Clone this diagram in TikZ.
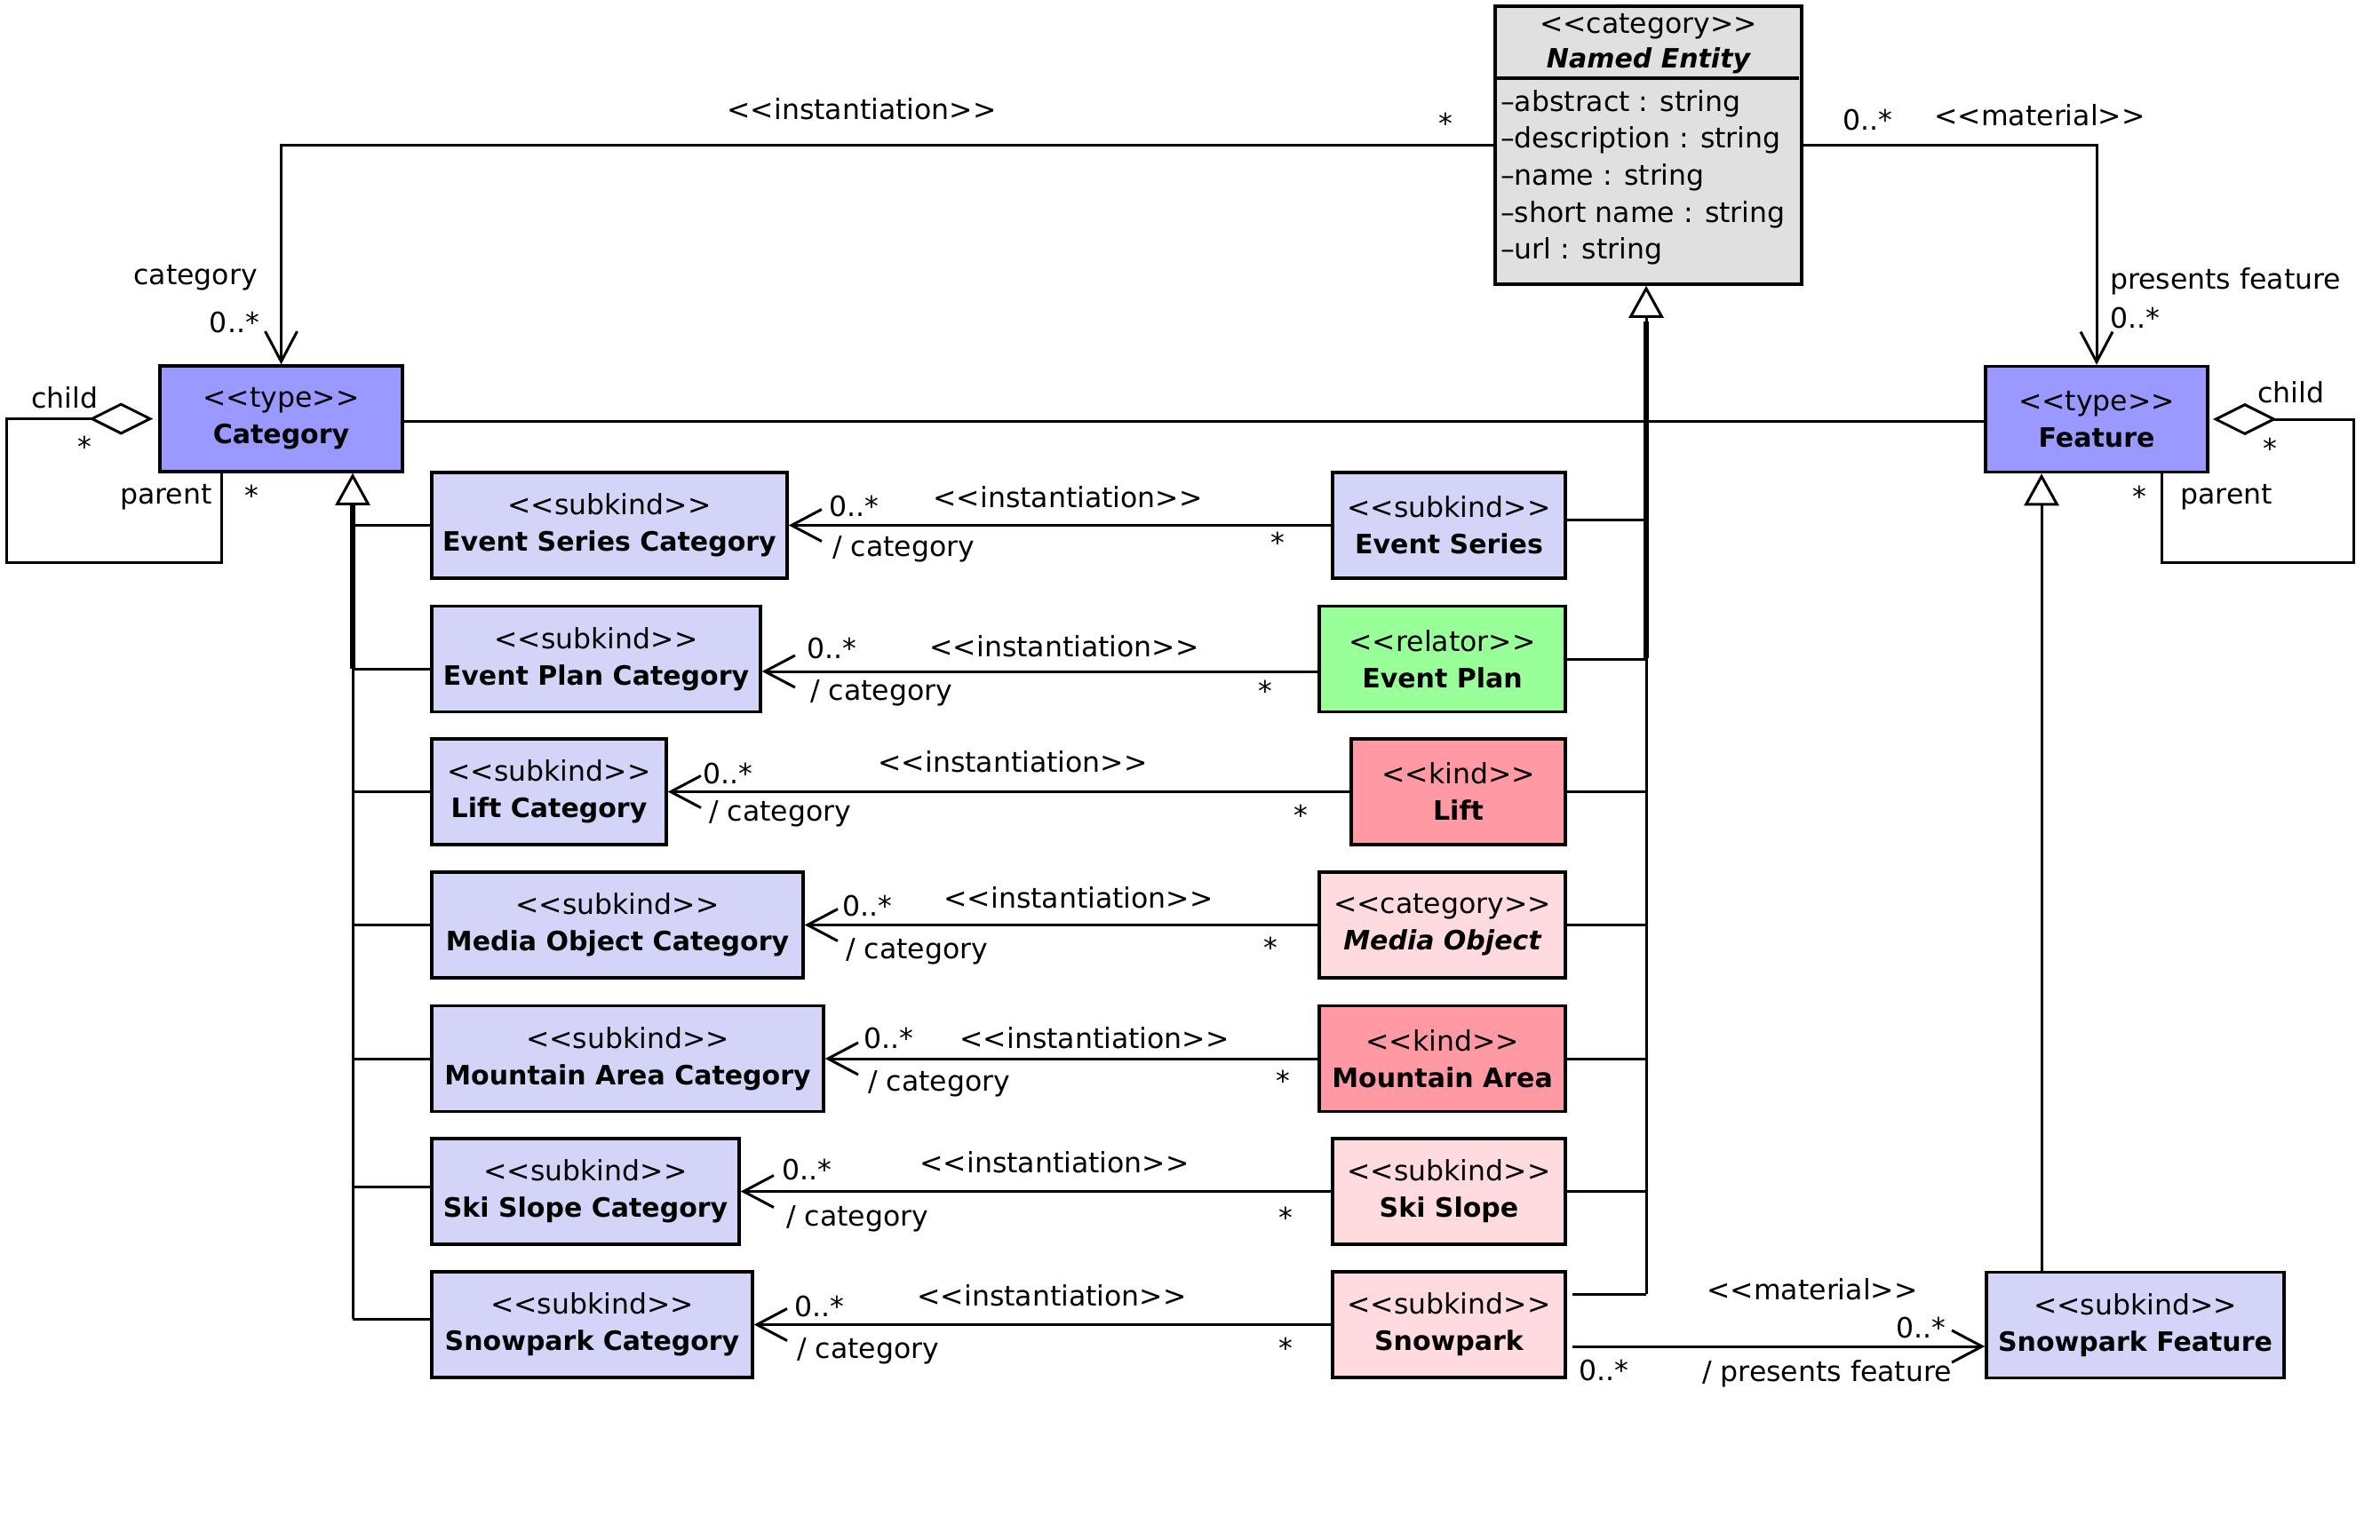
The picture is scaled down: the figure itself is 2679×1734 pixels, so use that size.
\documentclass[tikz,border=0pt]{standalone}
\usepackage{fontspec}
\setmainfont{DejaVu Sans}
\usetikzlibrary{arrows.meta,calc}
\newcommand{\fsz}{\fontsize{31.5}{41}\selectfont}
\newcommand{\bnm}[1]{{\fontsize{30}{41}\selectfont\bfseries #1}}
\newcommand{\stt}[1]{{<}{<}#1{>}{>}}
\definecolor{typec}{HTML}{9999FF}
\definecolor{subkc}{HTML}{D4D4F8}
\definecolor{relc}{HTML}{99FF99}
\definecolor{kindc}{HTML}{FF99A3}
\definecolor{pinkc}{HTML}{FFDADF}
\definecolor{entc}{HTML}{E0E0E0}
\begin{document}
\begin{tikzpicture}[x=1pt,y=-1pt,
 cls/.style={draw=black, line width=3.5pt, rectangle, align=center, inner sep=0pt, font=\fsz, minimum height=119pt},
 lbl/.style={inner sep=0pt, font=\fsz},
 conn/.style={line width=3pt},
 inst/.style={conn, -{Straight Barb[length=34pt,width=36pt]}},
 gen/.style={conn, -{Triangle[length=36pt,width=39pt,fill=white]}},
 agg/.style={conn, {Diamond[length=72pt,width=36pt,fill=white]}-},
]
\useasboundingbox (0,0) rectangle (2679,1734);

% ---------- Named Entity ----------
\node[cls, fill=entc, minimum width=345pt, minimum height=313pt] (ne) at (1855.5,163.5) {};
\draw[line width=3.5pt] (ne.north west) ++(1.75,83) -- ++(341.5,0);
\node[lbl] (ne1) at (1855.5,30) {\stt{category}};
\node[lbl] (ne2) at (1855.5,68) {\bnm{\itshape Named Entity}};
\node[lbl, anchor=west] (a1) at (1689,117) {–abstract : string};
\node[lbl, anchor=west] (a2) at (1689,158) {–description : string};
\node[lbl, anchor=west] (a3) at (1689,200) {–name : string};
\node[lbl, anchor=west] (a4) at (1689,242) {–short name : string};
\node[lbl, anchor=west] (a5) at (1689,283) {–url : string};

% ---------- Types ----------
\node[cls, fill=typec, minimum width=273pt] (cat) at (316.5,471.5) {\stt{type}\\\bnm{Category}};
\node[cls, fill=typec, minimum width=250pt] (feat) at (2360,472) {\stt{type}\\\bnm{Feature}};

% ---------- Left column ----------
\node[cls, fill=subkc, minimum width=400pt] (esc) at (686,591.5) {\stt{subkind}\\\bnm{Event Series Category}};
\node[cls, fill=subkc, minimum width=370pt] (epc) at (671,742) {\stt{subkind}\\\bnm{Event Plan Category}};
\node[cls, fill=subkc, minimum width=264pt] (lc) at (618,891.5) {\stt{subkind}\\\bnm{Lift Category}};
\node[cls, fill=subkc, minimum width=418pt] (moc) at (695,1041.5) {\stt{subkind}\\\bnm{Media Object Category}};
\node[cls, fill=subkc, minimum width=441pt] (mac) at (706.5,1192) {\stt{subkind}\\\bnm{Mountain Area Category}};
\node[cls, fill=subkc, minimum width=346pt] (ssc) at (659,1341.5) {\stt{subkind}\\\bnm{Ski Slope Category}};
\node[cls, fill=subkc, minimum width=361pt] (spc) at (666.5,1491.5) {\stt{subkind}\\\bnm{Snowpark Category}};

% ---------- Right column ----------
\node[cls, fill=subkc, minimum width=262pt] (es) at (1631,591.5) {\stt{subkind}\\\bnm{Event Series}};
\node[cls, fill=relc, minimum width=277pt] (ep) at (1623.5,742) {\stt{relator}\\\bnm{Event Plan}};
\node[cls, fill=kindc, minimum width=241pt] (lift) at (1641.5,891.5) {\stt{kind}\\\bnm{Lift}};
\node[cls, fill=pinkc, minimum width=277pt] (mo) at (1623.5,1041.5) {\stt{category}\\\bnm{\itshape Media Object}};
\node[cls, fill=kindc, minimum width=277pt] (ma) at (1623.5,1192) {\stt{kind}\\\bnm{Mountain Area}};
\node[cls, fill=pinkc, minimum width=262pt] (ss) at (1631,1341.5) {\stt{subkind}\\\bnm{Ski Slope}};
\node[cls, fill=pinkc, minimum width=262pt] (sp) at (1631,1491.5) {\stt{subkind}\\\bnm{Snowpark}};
\node[cls, fill=subkc, minimum width=335pt] (spf) at (2403.5,1492) {\stt{subkind}\\\bnm{Snowpark Feature}};

% ---------- Top associations ----------
\draw[inst] (ne.west) -| (cat.north);
\node[lbl] (t1) at (970,123) {\stt{instantiation}};
\node[lbl] (t2) at (1627,139) {*};
\node[lbl, anchor=east] (t3) at (290,313) {category};
\node[lbl, anchor=east] (t4) at (292,363) {0..*};

\draw[inst] (ne.east) -| (feat.north);
\node[lbl] (m1) at (2102,135) {0..*};
\node[lbl] (m2) at (2296,130) {\stt{material}};
\node[lbl, anchor=west] (m3) at (2375,317) {presents feature};
\node[lbl, anchor=west] (m4) at (2375,358) {0..*};

\draw[conn] (cat.east |- 0,474) -- (feat.west |- 0,474);

% ---------- Self loops ----------
\coordinate (cl1) at (7,633);
\coordinate (cl2) at (249,633);
\draw[agg, shorten <=6pt] (cat.west) -| (cl1) -- (cl2) -- (cl2 |- cat.south);
\node[lbl] (c1) at (73,448) {child};
\node[lbl] (c2) at (95,503) {*};
\node[lbl] (c3) at (187,560) {parent};
\node[lbl] (c4) at (283,558) {*};

\coordinate (fl1) at (2649,633);
\coordinate (fl2) at (2433,633);
\draw[agg, shorten <=4pt] (feat.east) -| (fl1) -- (fl2) -- (fl2 |- feat.south);
\node[lbl] (f1) at (2579,442) {child};
\node[lbl] (f2) at (2555,505) {*};
\node[lbl] (f3) at (2506,560) {parent};
\node[lbl] (f4) at (2408,559) {*};

% ---------- Left generalization tree ----------
\coordinate (tlb) at (397,1485);
\draw[line width=6pt] (397,567) -- (397,753);
\draw[gen] (tlb) -- (tlb |- cat.south);
\draw[conn] (esc.west) -- (esc.west -| tlb);
\draw[conn] ([yshift=-11pt]epc.west) -- ([yshift=-11pt]epc.west -| tlb);
\draw[conn] (lc.west) -- (lc.west -| tlb);
\draw[conn] (moc.west) -- (moc.west -| tlb);
\draw[conn] (mac.west) -- (mac.west -| tlb);
\draw[conn] ([yshift=5pt]ssc.west) -- ([yshift=5pt]ssc.west -| tlb);
\draw[conn] ([yshift=6.5pt]spc.west) -- (tlb);

% ---------- Right generalization tree ----------
\coordinate (trb) at (1853,1457);
\draw[line width=6pt] (1853,362) -- (1853,741);
\draw[gen] (trb) -- (trb |- ne.south);
\draw[conn] ([yshift=6.5pt]es.east) -- ([yshift=6.5pt]es.east -| trb);
\draw[conn] (ep.east) -- (ep.east -| trb);
\draw[conn] (lift.east) -- (lift.east -| trb);
\draw[conn] (mo.east) -- (mo.east -| trb);
\draw[conn] (ma.east) -- (ma.east -| trb);
\draw[conn] (ss.east) -- (ss.east -| trb);
\draw[conn] ([yshift=34.5pt,xshift=6pt]sp.east) -- (trb);

% ---------- Feature generalization ----------
\coordinate (fgb) at (2298,1432);
\draw[gen] (fgb) -- (fgb |- feat.south);

% ---------- Instantiation rows ----------
\draw[inst] (es.west) -- (esc.east);
\node[lbl, anchor=west] (r1a) at (933,570) {0..*};
\node[lbl] (r1b) at (1202,560) {\stt{instantiation}};
\node[lbl, anchor=west] (r1c) at (937,618) {/ category};
\node[lbl] (r1d) at (1438,611) {*};

\draw[inst] ([yshift=-14pt]ep.west) -- ([yshift=-14pt]epc.east);
\node[lbl, anchor=west] (r2a) at (908,730) {0..*};
\node[lbl] (r2b) at (1198,728) {\stt{instantiation}};
\node[lbl, anchor=west] (r2c) at (912,780) {/ category};
\node[lbl] (r2d) at (1424,778) {*};

\draw[inst] (lift.west) -- (lc.east);
\node[lbl, anchor=west] (r3a) at (791,871) {0..*};
\node[lbl] (r3b) at (1140,858) {\stt{instantiation}};
\node[lbl, anchor=west] (r3c) at (798,916) {/ category};
\node[lbl] (r3d) at (1464,918) {*};

\draw[inst] (mo.west) -- (moc.east);
\node[lbl, anchor=west] (r4a) at (948,1020) {0..*};
\node[lbl] (r4b) at (1214,1011) {\stt{instantiation}};
\node[lbl, anchor=west] (r4c) at (952,1071) {/ category};
\node[lbl] (r4d) at (1430,1067) {*};

\draw[inst] (ma.west) -- (mac.east);
\node[lbl, anchor=west] (r5a) at (972,1169) {0..*};
\node[lbl] (r5b) at (1232,1169) {\stt{instantiation}};
\node[lbl, anchor=west] (r5c) at (977,1220) {/ category};
\node[lbl] (r5d) at (1444,1217) {*};

\draw[inst] (ss.west) -- (ssc.east);
\node[lbl, anchor=west] (r6a) at (880,1317) {0..*};
\node[lbl] (r6b) at (1187,1309) {\stt{instantiation}};
\node[lbl, anchor=west] (r6c) at (885,1372) {/ category};
\node[lbl] (r6d) at (1447,1371) {*};

\draw[inst] (sp.west) -- (spc.east);
\node[lbl, anchor=west] (r7a) at (894,1471) {0..*};
\node[lbl] (r7b) at (1184,1459) {\stt{instantiation}};
\node[lbl, anchor=west] (r7c) at (897,1521) {/ category};
\node[lbl] (r7d) at (1447,1518) {*};

% ---------- Snowpark material ----------
\draw[inst] ([yshift=-24.5pt,xshift=6pt]sp.east) -- ([yshift=-24.5pt]sp.east -| spf.west);
\node[lbl] (s1) at (2040,1452) {\stt{material}};
\node[lbl, anchor=east] (s2) at (2190,1495) {0..*};
\node[lbl, anchor=east] (s3) at (2197,1547) {/ presents feature};
\node[lbl, anchor=west] (s4) at (1777,1543) {0..*};
\end{tikzpicture}
\end{document}
